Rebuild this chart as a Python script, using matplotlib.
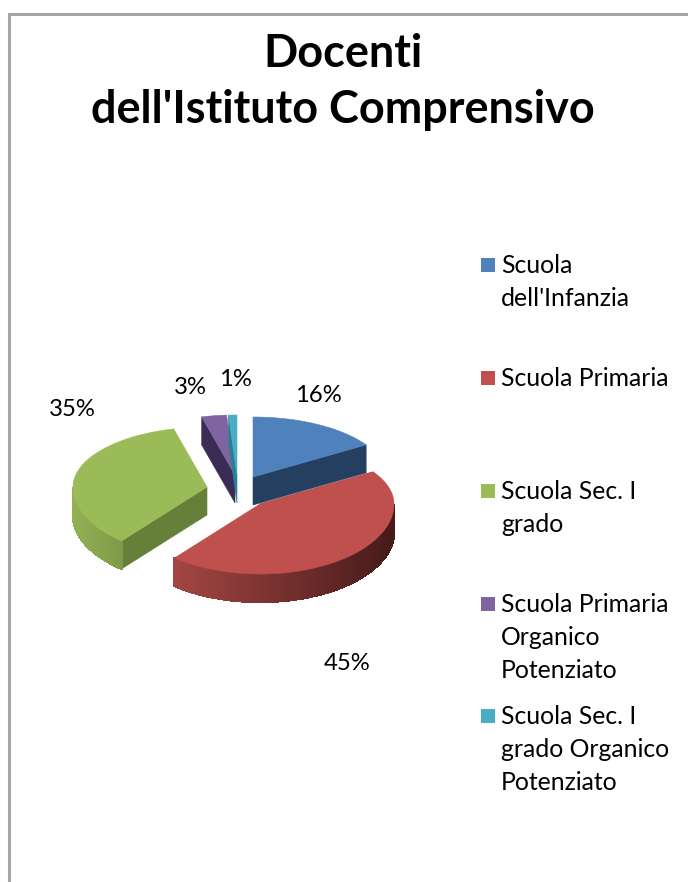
import matplotlib
matplotlib.use('Agg')
import matplotlib.pyplot as plt
from matplotlib.colors import to_rgb
import numpy as np

plt.rcParams['font.family'] = ['Lato', 'DejaVu Sans']

CATEGORIES = [
    'Scuola\ndell\'Infanzia',
    'Scuola Primaria',
    'Scuola Sec. I\ngrado',
    'Scuola Primaria\nOrganico\nPotenziato',
    'Scuola Sec. I\ngrado Organico\nPotenziato',
]
VALUES = [16, 45, 35, 3, 1]
PCT_LABELS = ['16%', '45%', '35%', '3%', '1%']
TITLE = "Docenti\ndell'Istituto Comprensivo"

COLORS = ['#4f81bd', '#c0504d', '#9bbb59', '#8064a2', '#4bacc6']
FACE_COLORS = ['#253f60', '#8e3a38', '#66803a', '#3b2c55', '#2a7f96']
# colour of the outer wall at its left and right end
RIM_LEFT = ['#253f60', '#a34543', '#93b055', '#3b2c55', '#2a7f96']
RIM_RIGHT = ['#253f60', '#451a19', '#7f9a47', '#3b2c55', '#2a7f96']

# pie geometry in pixels, the front half looks a bit deeper
RX, RY_BACK, RY_FRONT, DEPTH = 134, 60, 70, 28
APEX = [(253, 477), (260, 504), (207, 487), (235, 475), (237, 475)]
PCT_POS = [(318, 395), (347, 664), (72, 410), (190, 388), (235, 380)]
LEGEND_Y = [265, 378, 491, 604, 716]
DRAW_ORDER = [0, 3, 4, 2, 1]

fig = plt.figure(figsize=(6.88, 8.82), dpi=100)
fig.patch.set_facecolor('w')
ax = fig.add_axes([0, 0, 1, 1])
ax.set_xlim(0, 688)
ax.set_ylim(882, 0)
ax.axis('off')

# FRAME
ax.plot([8.5, 8.5, 688], [882, 13.5, 13.5], color='#a6a6a6', lw=2.2, solid_joinstyle='miter')


def rim(cx, cy, angle):
    c = np.cos(angle)
    return cx + RX * np.sin(angle), cy - np.where(c > 0, RY_BACK, RY_FRONT) * c


# WEDGES, angles run clockwise from the top
edges = np.radians(np.cumsum([0] + VALUES) * 360 / sum(VALUES))

for i in DRAW_ORDER:
    cx, cy = APEX[i]
    a0, a1 = edges[i], edges[i + 1]
    t = np.linspace(a0, a1, 160)
    x, y = rim(cx, cy, t)

    # cut face on the side turned towards the viewer
    cut = a1 if i == 0 else a0
    fx, fy = rim(cx, cy, cut)
    ax.fill([cx, fx, fx, cx], [cy, fy, fy + DEPTH, cy + DEPTH],
            color=FACE_COLORS[i], lw=0.4, zorder=3)

    # outer wall, only the part that faces front
    front = (t > np.pi / 2) & (t < 3 * np.pi / 2)
    if front.sum() > 1:
        xf, yf = x[front], y[front]
        left, right = np.array(to_rgb(RIM_LEFT[i])), np.array(to_rgb(RIM_RIGHT[i]))
        lo, hi = xf.min(), xf.max()
        for k in range(len(xf) - 1):
            w = ((xf[k] + xf[k + 1]) / 2 - lo) / (hi - lo)
            c = left + (right - left) * w
            ax.fill([xf[k], xf[k + 1], xf[k + 1], xf[k]],
                    [yf[k], yf[k + 1], yf[k + 1] + DEPTH, yf[k] + DEPTH],
                    color=c, lw=1.0, antialiased=False, zorder=3)

    # top
    ax.fill(np.r_[cx, x], np.r_[cy, y], color=COLORS[i], lw=0.4, zorder=3)

# PERCENT LABELS
for txt, (px, py) in zip(PCT_LABELS, PCT_POS):
    ax.text(px, py, txt, ha='center', va='center', fontsize=17.2, color='k')

# LEGEND
for label, color, ly in zip(CATEGORIES, COLORS, LEGEND_Y):
    ax.fill([481, 495, 495, 481], [ly - 7, ly - 7, ly + 7, ly + 7], color=color, lw=0)
    ax.text(501, ly - 11, label, ha='left', va='top', fontsize=17.8,
            color='k', linespacing=1.52)

# TITLE
ax.text(343, 82, TITLE, ha='center', va='center', fontsize=32.4, fontweight='bold',
        color='k', linespacing=1.42)

plt.savefig('out.png', dpi=100)
